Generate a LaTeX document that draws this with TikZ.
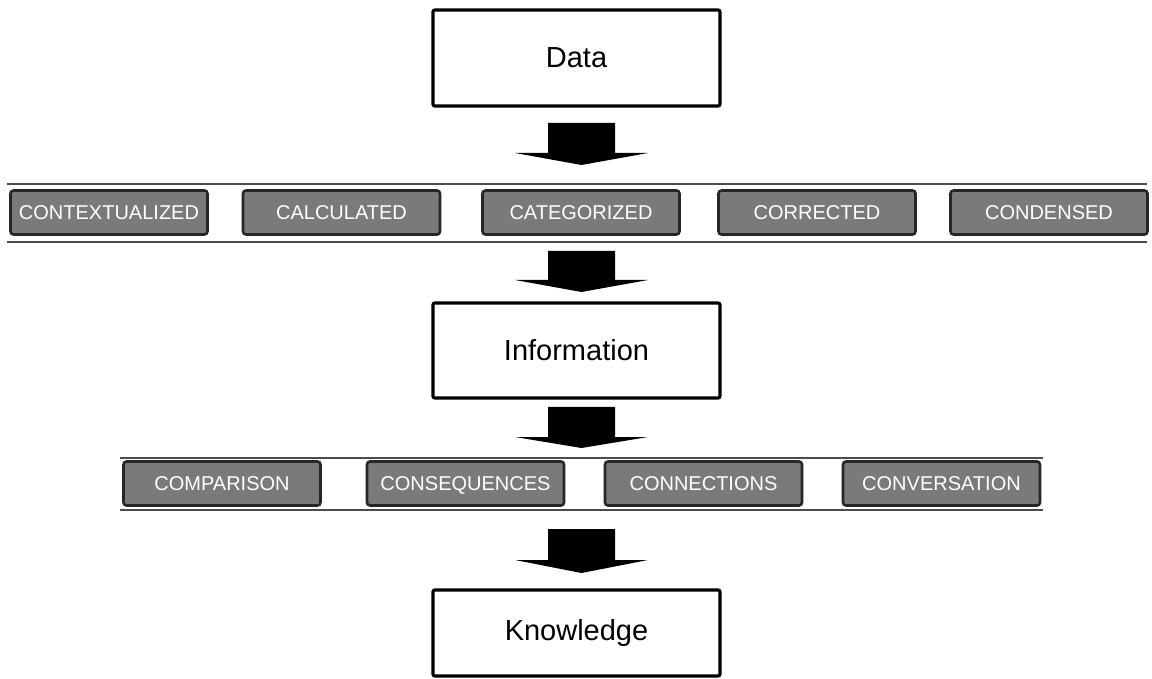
\documentclass[tikz,border=0pt]{standalone}
\usepackage{fontspec}
\setmainfont{Liberation Sans}
\newcommand\blockarrow[3]{%
  \fill[black] (548,#1) -- (615,#1) -- (615,#2) -- (648,#2) -- (581.5,#3) -- (515,#2) -- (548,#2) -- cycle;}
\tikzset{
  mainbox/.style={draw=black, line width=1.6pt, rounded corners=1pt, fill=white,
    minimum width=143.5pt, inner sep=0pt, font=\fontsize{14.5}{17}\selectfont},
  catbox/.style={draw=black!85, line width=1.3pt, rounded corners=1.5pt, fill=black!52,
    text=white, minimum width=98.5pt, minimum height=22pt, inner sep=0pt,
    text height=7.2pt, text depth=0pt,
    font=\fontsize{10}{12}\selectfont},
  sepline/.style={draw=black!70, line width=0.9pt}
}
\begin{document}
\begin{tikzpicture}[x=0.5pt,y=-0.5pt]
\useasboundingbox (0,0) rectangle (1152,679);
% main boxes
\node[mainbox, minimum height=48pt] (data) at (576.5,58) {Data};
\node[mainbox, minimum height=47.5pt] (info) at (576.5,350.5) {Information};
\node[mainbox, minimum height=43pt] (know) at (576.5,633) {Knowledge};
% row 1
\draw[sepline] (7,184) -- (1147,184);
\draw[sepline] (7,242) -- (1147,242);
\node[catbox] (c1) at (109,212.5) {CONTEXTUALIZED};
\node[catbox] (c2) at (341.5,212.5) {CALCULATED};
\node[catbox] (c3) at (581,212.5) {CATEGORIZED};
\node[catbox] (c4) at (817,212.5) {CORRECTED};
\node[catbox] (c5) at (1049,212.5) {CONDENSED};
% row 2
\draw[sepline] (120,458) -- (1043,458);
\draw[sepline] (120,510) -- (1043,510);
\node[catbox] (k1) at (222,483.5) {COMPARISON};
\node[catbox] (k2) at (465.5,483.5) {CONSEQUENCES};
\node[catbox] (k3) at (703.5,483.5) {CONNECTIONS};
\node[catbox] (k4) at (941.5,483.5) {CONVERSATION};
% block arrows
\blockarrow{123}{153}{165}
\blockarrow{251}{280}{292}
\blockarrow{407}{437}{448}
\blockarrow{529}{560}{573}
\end{tikzpicture}
\end{document}
